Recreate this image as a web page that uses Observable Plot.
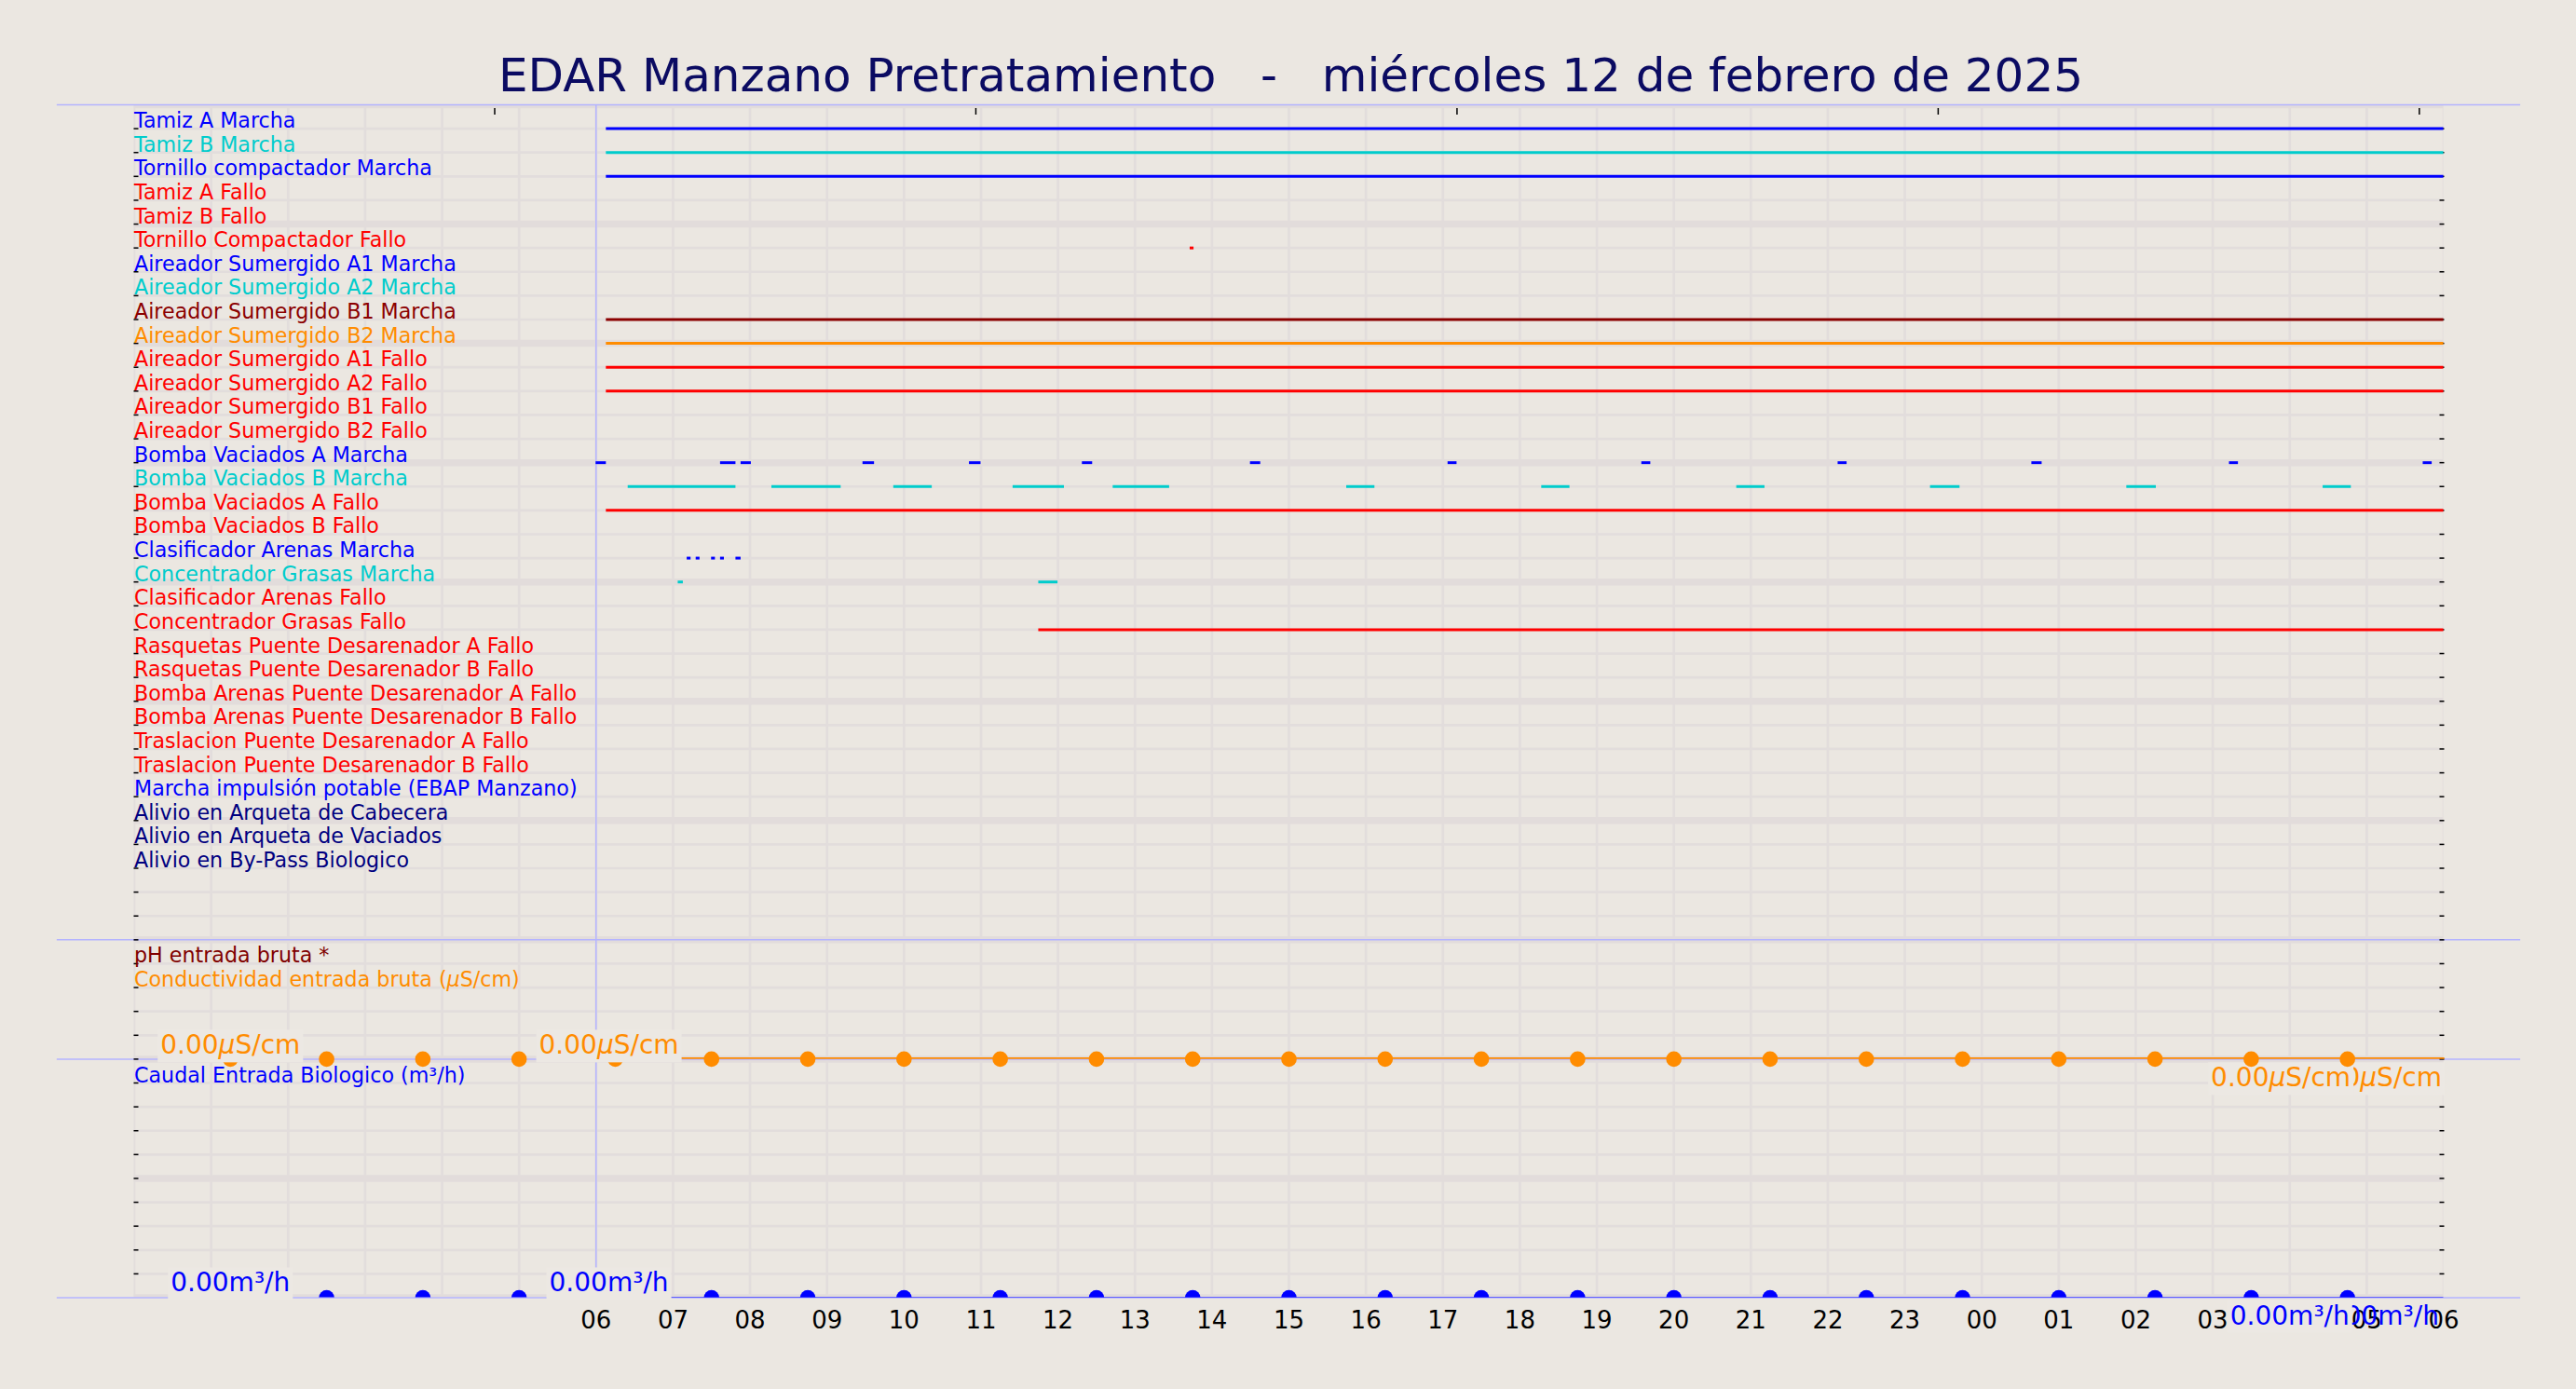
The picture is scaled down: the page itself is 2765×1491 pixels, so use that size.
<!DOCTYPE html>
<html>
<head>
<meta charset="utf-8">
<script src="https://cdn.jsdelivr.net/npm/d3@7"></script>
<script src="https://cdn.jsdelivr.net/npm/@observablehq/plot@0.6"></script>
<style>
  html, body { margin: 0; padding: 0; background: #ebe7e1; overflow: hidden; }
  #title { position: relative; height: 100px; width: 2765px; }
  #title span { position: absolute; left: 3px; width: 2765px; top: 51.6px; line-height: 58.2px; text-align: center;
    font-family: "DejaVu Sans"; font-size: 50px; color: #0b0b62; white-space: pre; }
  #chart svg { display: block; }
</style>
</head>
<body>
<div id="title"><span>EDAR Manzano Pretratamiento   -   miércoles 12 de febrero de 2025</span></div>
<div id="chart"></div>
<script>
// ---------- data ----------
const rowLabels = [
  "Tamiz A Marcha", "Tamiz B Marcha", "Tornillo compactador Marcha", "Tamiz A Fallo", "Tamiz B Fallo",
  "Tornillo Compactador Fallo", "Aireador Sumergido A1 Marcha", "Aireador Sumergido A2 Marcha",
  "Aireador Sumergido B1 Marcha", "Aireador Sumergido B2 Marcha", "Aireador Sumergido A1 Fallo",
  "Aireador Sumergido A2 Fallo", "Aireador Sumergido B1 Fallo", "Aireador Sumergido B2 Fallo",
  "Bomba Vaciados A Marcha", "Bomba Vaciados B Marcha", "Bomba Vaciados A Fallo", "Bomba Vaciados B Fallo",
  "Clasificador Arenas Marcha", "Concentrador Grasas Marcha", "Clasificador Arenas Fallo",
  "Concentrador Grasas Fallo", "Rasquetas Puente Desarenador A Fallo", "Rasquetas Puente Desarenador B Fallo",
  "Bomba Arenas Puente Desarenador A Fallo", "Bomba Arenas Puente Desarenador B Fallo",
  "Traslacion Puente Desarenador A Fallo", "Traslacion Puente Desarenador B Fallo",
  "Marcha impulsión potable (EBAP Manzano)", "Alivio en Arqueta de Cabecera",
  "Alivio en Arqueta de Vaciados", "Alivio en By-Pass Biologico"
];
const panelLabels = ["pH entrada bruta *", "Conductividad entrada bruta (µS/cm)", "Caudal Entrada Biologico (m³/h)"];

// on-intervals per signal ("day HH:MM")
const runWindow = ["12 06:08", "13 06:00"];
const rowIntervals = {
  "Tamiz A Marcha": [runWindow],
  "Tamiz B Marcha": [runWindow],
  "Tornillo compactador Marcha": [runWindow],
  "Tornillo Compactador Fallo": [["12 13:43", "12 13:46"]],
  "Aireador Sumergido B1 Marcha": [runWindow],
  "Aireador Sumergido B2 Marcha": [runWindow],
  "Aireador Sumergido A1 Fallo": [runWindow],
  "Aireador Sumergido A2 Fallo": [runWindow],
  "Bomba Vaciados A Marcha": [
    ["12 06:00", "12 06:08"], ["12 07:37", "12 07:49"], ["12 07:53", "12 08:01"], ["12 09:28", "12 09:37"],
    ["12 10:51", "12 11:00"], ["12 12:19", "12 12:27"], ["12 14:30", "12 14:38"], ["12 17:04", "12 17:11"],
    ["12 19:35", "12 19:42"], ["12 22:08", "12 22:15"], ["13 00:39", "13 00:47"], ["13 03:13", "13 03:20"],
    ["13 05:44", "13 05:51"]
  ],
  "Bomba Vaciados B Marcha": [
    ["12 06:25", "12 07:49"], ["12 08:17", "12 09:11"], ["12 09:52", "12 10:22"], ["12 11:25", "12 12:05"],
    ["12 12:43", "12 13:27"], ["12 15:45", "12 16:07"], ["12 18:17", "12 18:39"], ["12 20:49", "12 21:11"],
    ["12 23:20", "12 23:43"], ["13 01:53", "13 02:16"], ["13 04:26", "13 04:48"]
  ],
  "Bomba Vaciados A Fallo": [runWindow],
  "Clasificador Arenas Marcha": [
    ["12 07:11", "12 07:14"], ["12 07:18", "12 07:21"], ["12 07:30", "12 07:33"],
    ["12 07:37", "12 07:40"], ["12 07:49", "12 07:53"]
  ],
  "Concentrador Grasas Marcha": [["12 07:04", "12 07:08"], ["12 11:45", "12 12:00"]],
  "Concentrador Grasas Fallo": [["12 11:45", "13 06:00"]]
};

// sampled analog values
const sampleTimes = [
  "12 01:15", "12 02:30", "12 03:45", "12 05:00", "12 06:15", "12 07:30", "12 08:45", "12 10:00",
  "12 11:15", "12 12:30", "12 13:45", "12 15:00", "12 16:15", "12 17:30", "12 18:45", "12 20:00",
  "12 21:15", "12 22:30", "12 23:45", "13 01:00", "13 02:15", "13 03:30", "13 04:45"
];
const condValues = sampleTimes.map(() => 0);   // µS/cm, all read as 0.00
const flowValues = sampleTimes.map(() => 0);   // m³/h, all read as 0.00
const condLineTimes = ["12 06:09", "13 06:00"];
const condLineValues = [0, 0];
const flowLineTimes = ["12 06:09", "13 06:00"];
const flowLineValues = [0, 0];

// value annotations
const condLabelTimes = ["12 01:15", "12 06:10"];
const condEndLabelTime = "13 06:00";
const condLastLabelTime = "13 03:00";
const flowLabelTimes = ["12 01:15", "12 06:10"];
const flowEndLabelTime = "13 06:00";
const flowLastLabelTime = "13 03:15";

const hourTickLabels = d3.range(0, 25).map(h => h + 6);   // 06 .. 06 (+1 day)
const topTickTimes = ["12 04:41", "12 10:56", "12 17:11", "12 23:26", "13 05:41"];

// ---------- helpers / layout ----------
const T = s => { const [d, hm] = s.split(" "); const [h, m] = hm.split(":").map(Number); return new Date(Date.UTC(2025, 1, +d, h, m)); };
const H = h => new Date(Date.UTC(2025, 1, 12, h));

const BLUE = "#0000ff", CYAN = "#00cccc", RED = "#ff0000", DRED = "#8b0000", ORANGE = "#ff8c00", NAVY = "#000080";
const rowColors = [BLUE, CYAN, BLUE, RED, RED, RED, BLUE, CYAN, DRED, ORANGE, RED, RED, RED, RED,
  BLUE, CYAN, RED, RED, BLUE, CYAN, RED, RED, RED, RED, RED, RED, RED, RED, BLUE, NAVY, NAVY, NAVY];
const panelColors = ["#800000", ORANGE, BLUE];
const panelRows = [35, 36, 40];
const COND_BASE = 39, COND_K = 5 / 2000;   // middle panel rows per µS/cm
const FLOW_BASE = 49, FLOW_K = 10 / 1000;  // bottom panel rows per m³/h
const condY = v => COND_BASE - v * COND_K;
const flowY = v => FLOW_BASE - v * FLOW_K;

const BG = "#ebe7e1", GRID = "#e2dddc", EDGE = "#b4b4ff", BOX = "#ece8e3";

const labelTable = rowLabels.map((label, i) => ({label, row: i}))
  .concat(panelLabels.map((label, i) => ({label, row: panelRows[i]})));
const segments = rowLabels.flatMap((label, i) =>
  (rowIntervals[label] || []).map(([a, b]) => ({label, row: i, start: T(a), end: T(b)})));
const condPoints = sampleTimes.map((t, i) => ({time: T(t), value: condValues[i]}));
const flowPoints = sampleTimes.map((t, i) => ({time: T(t), value: flowValues[i]}));
const condLine = condLineTimes.map((t, i) => ({time: T(t), value: condLineValues[i]}));
const flowLine = flowLineTimes.map((t, i) => ({time: T(t), value: flowLineValues[i]}));
const fmt = v => v.toFixed(2);

const gridU = d3.range(-1, 50);
const majorU = gridU.filter(u => (u + 1) % 5 === 0);
const minorU = gridU.filter(u => (u + 1) % 5 !== 0);
const tickU = d3.range(0, 49);
const hours = d3.range(0, 31).map(H);

const txt = (extra) => Object.assign({lineAnchor: "middle", fontSize: 28}, extra);

const plot = Plot.plot({
  width: 2765, height: 1391,
  marginTop: 12, marginBottom: 98.5, marginLeft: 143.5, marginRight: 142.5,
  style: {background: "transparent", fontFamily: "DejaVu Sans", color: "#000"},
  x: {type: "utc", domain: [H(0), H(30)]},
  y: {domain: [-1, 49], reverse: true},
  color: {domain: rowLabels.concat(panelLabels), range: rowColors.concat(panelColors)},
  marks: [
    Plot.ruleX(hours, {stroke: GRID, strokeWidth: 2.7, clip: true}),
    Plot.ruleY(minorU, {stroke: GRID, strokeWidth: 2.7, clip: true}),
    Plot.ruleY(majorU, {stroke: "#e2dcdb", strokeWidth: 7.5, clip: true}),
    Plot.ruleY([-1, 34, 39, 49], {x1: H(-1), x2: H(31), stroke: EDGE, strokeWidth: 1.5}),
    Plot.ruleX([H(6)], {stroke: EDGE, strokeWidth: 1.5}),
    Plot.axisY(tickU, {anchor: "left", tickSize: 5, dx: 5, tickFormat: () => "", label: null, strokeWidth: 1.5}),
    Plot.axisY(tickU, {anchor: "right", tickSize: 5, dx: -5, tickFormat: () => "", label: null, strokeWidth: 1.5}),
    Plot.axisX(topTickTimes.map(T), {anchor: "top", tickSize: 7, dy: 10, tickFormat: () => "", label: null, strokeWidth: 1.5}),
    Plot.text(labelTable, {y: "row", text: "label", fill: "label", frameAnchor: "left", textAnchor: "start",
      lineAnchor: "bottom", dx: 0, dy: -1, fontSize: 22.2}),
    Plot.ruleY(segments, {y: "row", x1: "start", x2: "end", stroke: "label", strokeWidth: 3}),
    Plot.line(condLine, {x: "time", y: d => condY(d.value), stroke: ORANGE, strokeWidth: 1.8, dy: -1}),
    Plot.line(flowLine, {x: "time", y: d => flowY(d.value), stroke: BLUE, strokeWidth: 2, clip: true}),
    // right-hand conductivity labels (under the points)
    Plot.text([condPoints[condPoints.length - 1]], txt({x: () => T(condEndLabelTime), y: d => condY(d.value),
      text: d => fmt(d.value) + "µS/cm", textAnchor: "end", dx: -2, dy: 20.5, fill: ORANGE})),
    Plot.text([condPoints[condPoints.length - 1]], txt({x: () => T(condLastLabelTime), y: d => condY(d.value),
      text: d => fmt(d.value) + "µS/cm", textAnchor: "start", dx: -2, dy: 20.5, fill: ORANGE})),
    Plot.dot(condPoints, {x: "time", y: d => condY(d.value), r: 8.3, fill: ORANGE}),
    Plot.dot(flowPoints, {x: "time", y: d => flowY(d.value), r: 8.3, fill: BLUE, clip: true}),
    Plot.text(condLabelTimes.map((t, i) => ({time: T(t), value: condPoints[i].value})), txt({x: "time", y: d => condY(d.value),
      text: d => fmt(d.value) + "µS/cm", textAnchor: "middle", dy: -14.5, fill: ORANGE})),
    Plot.text(flowLabelTimes.map((t, i) => ({time: T(t), value: flowPoints[i].value})), txt({x: "time", y: d => flowY(d.value),
      text: d => fmt(d.value) + "m³/h", textAnchor: "middle", dy: -15.5, fill: BLUE})),
    Plot.axisX(hourTickLabels.map(H), {anchor: "bottom", tickSize: 0, tickPadding: 14.5, tickFormat: "%H",
      fontSize: 26, label: null, fill: "#000"}),
    Plot.text([flowPoints[flowPoints.length - 1]], txt({x: () => T(flowEndLabelTime), y: d => flowY(d.value),
      text: d => fmt(d.value) + "m³/h", textAnchor: "end", dx: -5, dy: 19.8, fill: BLUE})),
    Plot.text([flowPoints[flowPoints.length - 1]], txt({x: () => T(flowLastLabelTime), y: d => flowY(d.value),
      text: d => fmt(d.value) + "m³/h", textAnchor: "start", dx: -2, dy: 19.8, fill: BLUE}))
  ]
});
document.getElementById("chart").append(plot);

const SVGNS = "http://www.w3.org/2000/svg";
// italic µ as in the reference (mathtext style)
plot.querySelectorAll("text").forEach(t => {
  if (t.children.length || !t.textContent.includes("µ")) return;
  const parts = t.textContent.split("µ");
  t.textContent = "";
  parts.forEach((p, i) => {
    if (i > 0) {
      const ts = document.createElementNS(SVGNS, "tspan");
      ts.setAttribute("font-style", "italic");
      ts.textContent = "µ";
      t.appendChild(ts);
    }
    if (p) t.appendChild(document.createTextNode(p));
  });
});

// background boxes behind the value annotations (all but the trailing flow label)
plot.querySelectorAll("text").forEach(t => {
  if (!t.textContent.startsWith("0.00")) return;
  const g = t.parentNode;
  if (g.getAttribute("text-anchor") === "end" && g.getAttribute("fill") === BLUE) return;
  const b = t.getBBox();
  const r = document.createElementNS(SVGNS, "rect");
  r.setAttribute("x", b.x - 3);
  r.setAttribute("y", b.y);
  r.setAttribute("width", b.width + 6);
  r.setAttribute("height", b.height + 2);
  r.setAttribute("fill", BOX);
  r.setAttribute("stroke", "none");
  if (t.getAttribute("transform")) r.setAttribute("transform", t.getAttribute("transform"));
  g.insertBefore(r, t);
});
</script>
</body>
</html>
